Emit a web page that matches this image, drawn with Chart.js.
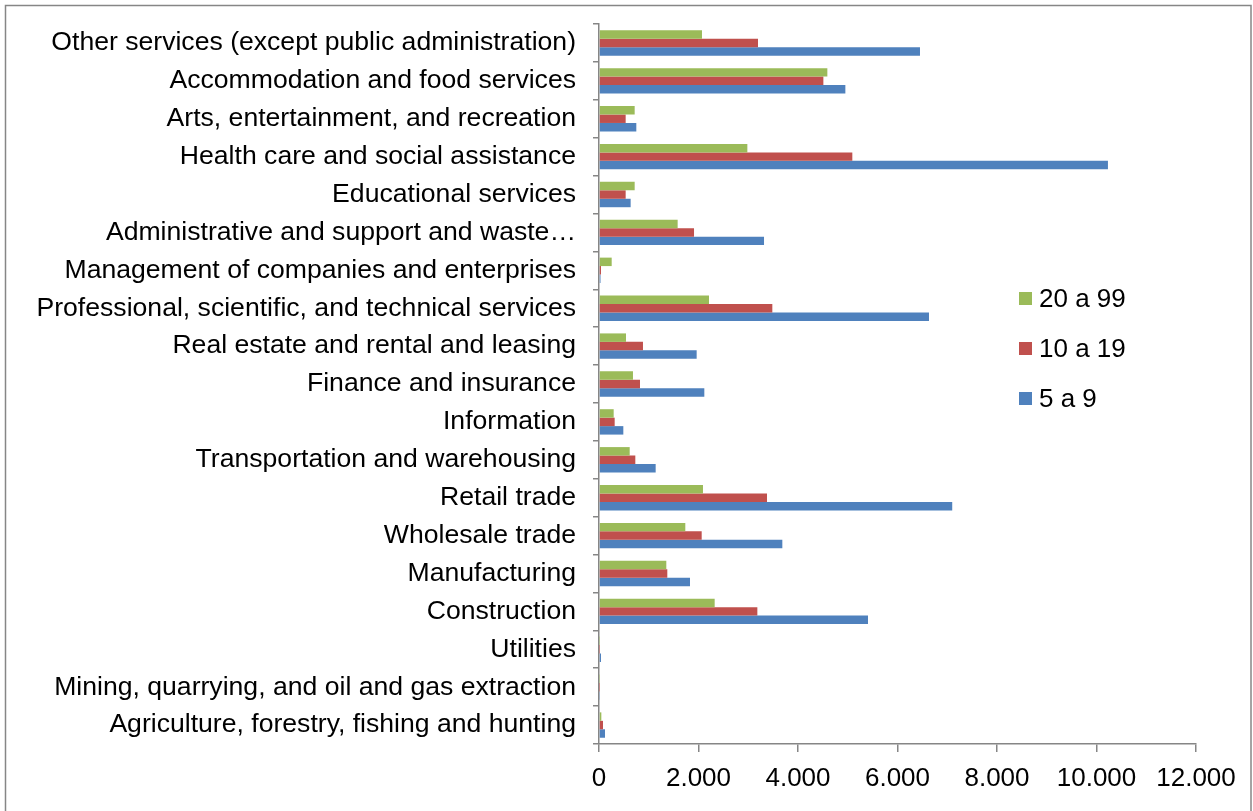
<!DOCTYPE html>
<html>
<head>
<meta charset="utf-8">
<script src="https://cdn.jsdelivr.net/npm/chart.js@4/dist/chart.umd.min.js"></script>
<style>
  html, body { margin: 0; padding: 0; background: #fff; }
  #wrap { position: relative; width: 1253px; height: 811px; }
</style>
</head>
<body>
<div id="wrap"><canvas id="sectorChart" width="1253" height="811"></canvas></div>
<script>
// Sectors, listed top to bottom as shown on the chart
const sectors = [
    'Other services (except public administration)',
    'Accommodation and food services',
    'Arts, entertainment, and recreation',
    'Health care and social assistance',
    'Educational services',
    'Administrative and support and waste…',
    'Management of companies and enterprises',
    'Professional, scientific, and technical services',
    'Real estate and rental and leasing',
    'Finance and insurance',
    'Information',
    'Transportation and warehousing',
    'Retail trade',
    'Wholesale trade',
    'Manufacturing',
    'Construction',
    'Utilities',
    'Mining, quarrying, and oil and gas extraction',
    'Agriculture, forestry, fishing and hunting'
];

// Number of establishments by employee size class
const size20to99 = [2070, 4590, 717, 2982, 717, 1581, 255, 2211, 543, 683, 295, 617, 2090, 1735, 1353, 2325, 8, 8, 47];
const size10to19 = [3196, 4510, 536, 5092, 536, 1910, 40, 3484, 884, 824, 315, 730, 3377, 2064, 1373, 3183, 6, 6, 80];
const size5to9 = [6452, 4952, 750, 10230, 636, 3317, 30, 6633, 1963, 2117, 489, 1139, 7100, 3685, 1829, 5407, 40, 20, 121];

const seriesNames = ['20 a 99', '10 a 19', '5 a 9'];
const seriesColors = ['#9BBB59', '#C0504D', '#4F81BD'];

const axisGray = '#868686';
const fontFamily = '"Liberation Sans", Arial, sans-serif';
const fontSize = 26;

// Outer frame around the whole chart
const framePlugin = {
    id: 'frame',
    beforeDraw(chart) {
        const ctx = chart.ctx;
        ctx.save();
        ctx.strokeStyle = axisGray;
        ctx.lineWidth = 1.5;
        ctx.strokeRect(5.5, 5.5, 1245.5, 812);
        ctx.restore();
    }
};

// Legend drawn inside the plot, on the right
const sideLegendPlugin = {
    id: 'sideLegend',
    afterDraw(chart) {
        const ctx = chart.ctx;
        ctx.save();
        ctx.font = fontSize + 'px ' + fontFamily;
        ctx.textBaseline = 'middle';
        chart.data.datasets.forEach((ds, i) => {
            const y = 299 + i * 50;
            ctx.fillStyle = ds.backgroundColor;
            ctx.fillRect(1019, y - 7, 13, 13);
            ctx.fillStyle = '#000';
            ctx.fillText(ds.label, 1039, y + 1);
        });
        ctx.restore();
    }
};

const ctx = document.getElementById('sectorChart').getContext('2d');

new Chart(ctx, {
    type: 'bar',
    data: {
        labels: sectors,
        datasets: [
            { label: seriesNames[0], data: size20to99, backgroundColor: seriesColors[0] },
            { label: seriesNames[1], data: size10to19, backgroundColor: seriesColors[1] },
            { label: seriesNames[2], data: size5to9, backgroundColor: seriesColors[2] }
        ]
    },
    options: {
        indexAxis: 'y',
        responsive: false,
        animation: false,
        categoryPercentage: 0.67,
        barPercentage: 1.0,
        layout: {
            padding: { top: 24, right: 57, bottom: 0, left: 0 }
        },
        plugins: {
            legend: { display: false },
            tooltip: { enabled: false }
        },
        scales: {
            x: {
                min: 0,
                max: 12000,
                ticks: {
                    stepSize: 2000,
                    color: '#000',
                    padding: 11,
                    font: { family: fontFamily, size: fontSize },
                    callback: function(value) {
                        return String(value).replace(/\B(?=(\d{3})+(?!\d))/g, '.');
                    }
                },
                grid: {
                    drawOnChartArea: false,
                    color: axisGray,
                    lineWidth: 1.5,
                    tickLength: 8
                },
                border: { color: axisGray, width: 1.5 },
                afterFit: function(scale) {
                    scale.height = 67;
                }
            },
            y: {
                ticks: {
                    color: '#000',
                    padding: 17,
                    autoSkip: false,
                    font: { family: fontFamily, size: 26.6 }
                },
                grid: {
                    drawOnChartArea: false,
                    color: axisGray,
                    lineWidth: 1.5,
                    tickLength: 6
                },
                border: { color: axisGray, width: 1.5 },
                afterFit: function(scale) {
                    scale.width = 599;
                    // labels sit inside their bands, no extra room needed above/below
                    scale.paddingTop = 0;
                    scale.paddingBottom = 0;
                }
            }
        }
    },
    plugins: [framePlugin, sideLegendPlugin]
});
</script>
</body>
</html>
